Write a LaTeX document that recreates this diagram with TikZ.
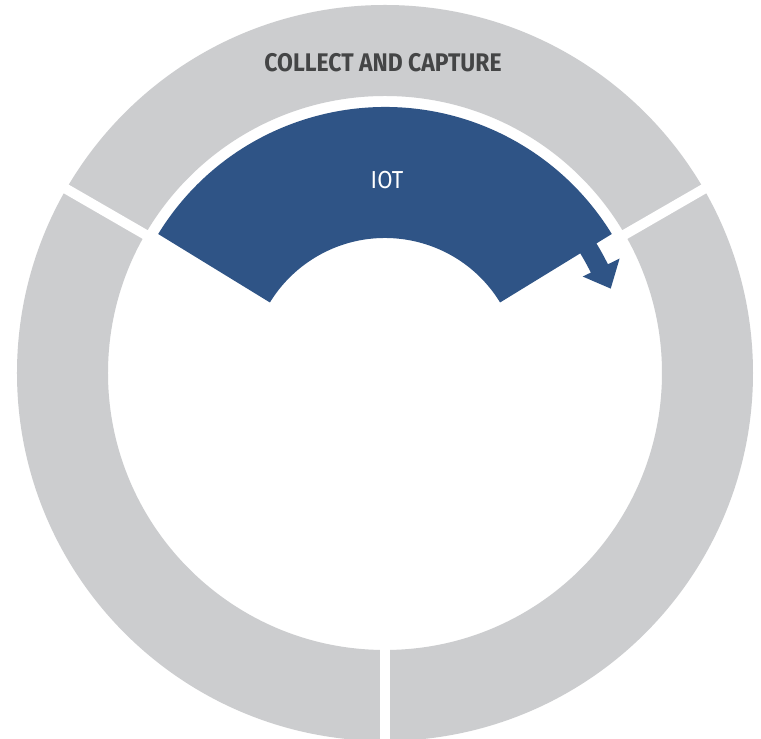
\documentclass[tikz,border=0pt]{standalone}
\usepackage{fontspec}
\newfontfamily\ringfont[FakeStretch=0.9]{Fira Sans}
\definecolor{ringgray}{HTML}{CCCDCF}
\definecolor{iotblue}{HTML}{2F5486}
\definecolor{textgray}{HTML}{444546}
\begin{document}
\begin{tikzpicture}[x=0.02cm, y=0.02cm,
  gapline/.style={draw=white, line width=2mm},
  ringlabel/.style={font=\ringfont\bfseries\fontsize{14.5}{16}\selectfont, text=textgray}]
\clip (-385,-366) rectangle (376,373);
\fill[white] (-385,-366) rectangle (376,373);
% gray ring, split in three
\fill[ringgray, even odd rule] (0,0) circle (368) (0,0) circle (277);
\draw[gapline] (30:270) -- (30:380);
\draw[gapline] (150:270) -- (150:380);
\draw[gapline] (270:270) -- (270:380);
% blue arc ending in an arrow
\fill[iotblue] (148.5:266) arc[start angle=148.5, end angle=31.5, radius=266]
  -- (31.5:248) arc[start angle=31.5, end angle=26, radius=248]
  -- (26:261) -- (20.5:241) -- (26:220) -- (26:229)
  arc[start angle=26, end angle=31.5, radius=229]
  -- (31.5:135) arc[start angle=31.5, end angle=148.5, radius=135] -- cycle;
\node[ringlabel] (collect) at (-2,310) {COLLECT AND CAPTURE};
\node[font=\ringfont\fontsize{14}{16}\selectfont, text=white] (iot) at (2,193) {IOT};
\end{tikzpicture}
\end{document}
